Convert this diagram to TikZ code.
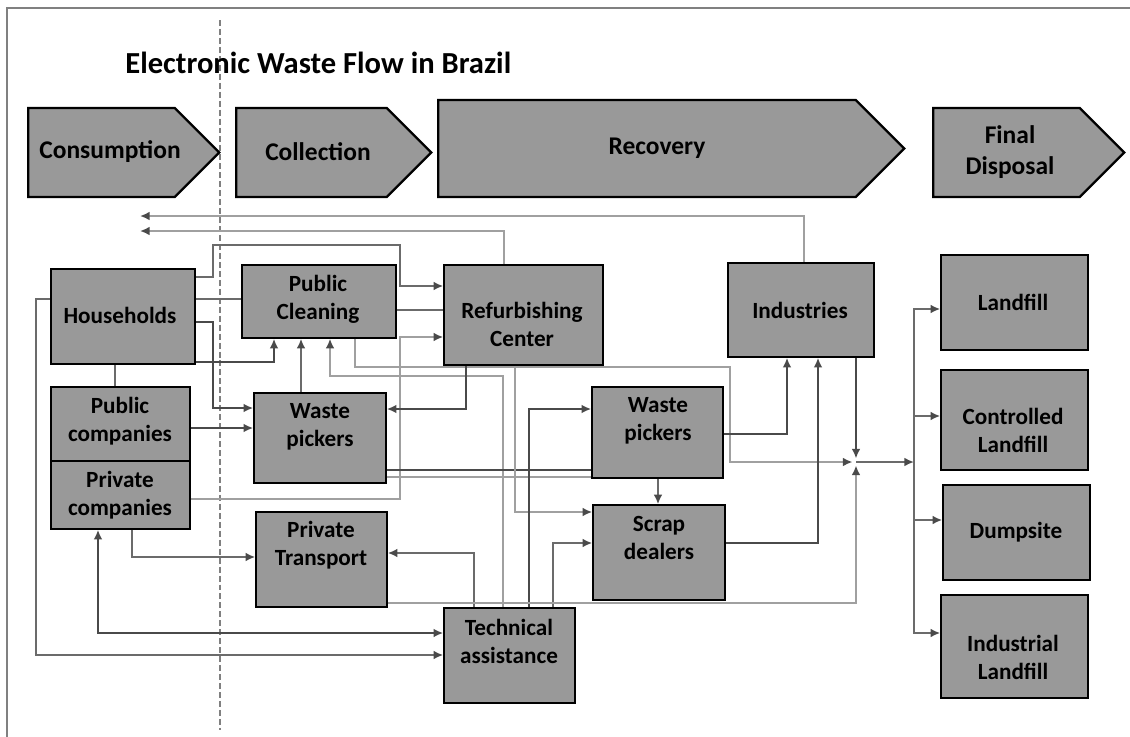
\documentclass[tikz,border=0pt]{standalone}
\usepackage{fontspec}
\setmainfont{Carlito}
\usetikzlibrary{arrows.meta,shapes.symbols}
\definecolor{boxgray}{HTML}{999999}
\definecolor{wiredk}{HTML}{4a4a4a}
\definecolor{wiremd}{HTML}{6b6b6b}
\definecolor{wirelt}{HTML}{a0a0a0}
\begin{document}
\begin{tikzpicture}[x=0.02cm, y=-0.02cm,
    box/.style 2 args={draw=black, line width=0.9pt, fill=boxgray, inner sep=0pt,
      minimum width=#1*0.02cm, minimum height=#2*0.02cm},
    stage/.style 2 args={signal, signal to=east, signal pointer angle=90, draw=black,
      line width=1.3pt, fill=boxgray, inner sep=0pt, anchor=west,
      minimum width=#1*0.02cm, minimum height=#2*0.02cm},
    txt/.style={font=\fontsize{13.2}{15.9}\selectfont\bfseries, align=center, inner sep=0pt},
    stagetxt/.style={font=\fontsize{14.5}{17.6}\selectfont\bfseries, align=center, inner sep=0pt},
    wire/.style={draw=wiremd, line width=1pt},
    wiredark/.style={draw=wiredk, line width=1.1pt},
    wirelight/.style={draw=wirelt, line width=1pt},
    >={Latex[length=5.5pt,width=5pt,color=wiredk]}]
  \useasboundingbox (0,0) rectangle (1130,737);
  \draw[draw=gray, line width=0.8pt] (7,737) -- (7,8) -- (1130,8);
  \draw[draw=gray, line width=0.8pt, dash pattern=on 3.4pt off 1.7pt] (220,20) -- (220,730);
  \node[font=\fontsize{17.4}{20}\selectfont\bfseries, anchor=west, inner sep=0pt] (title) at (125,63) {Electronic Waste Flow in Brazil};

  \node[stage={191}{89}] (cons) at (27,152.5) {};
  \node[stage={195}{89}] (coll) at (235,152.5) {};
  \node[stage={466}{97}] (reco) at (437,148.5) {};
  \node[stage={191}{89}] (fdis) at (932,152.5) {};
  \node[stagetxt] (cons-t) at (110,152) {Consumption};
  \node[stagetxt] (coll-t) at (318,152) {Collection};
  \node[stagetxt] (reco-t) at (657,148) {Recovery};
  \node[stagetxt] (fdis-t) at (1010,152) {Final\\Disposal};

  \node[box={144}{95}] (hh) at (123,316.5) {};
  \node[box={154}{73}] (pc) at (319,301.5) {};
  \node[box={159}{100}] (rc) at (523.5,315) {};
  \node[box={146}{94}] (ind) at (801,310) {};
  \node[box={139}{74}] (pub) at (120.5,424) {};
  \node[box={139}{68}] (priv) at (120.5,495) {};
  \node[box={132}{90}] (wp1) at (320,438) {};
  \node[box={131}{91}] (wp2) at (657.5,432.5) {};
  \node[box={132}{95}] (sd) at (659,552.5) {};
  \node[box={131}{95}] (pt) at (321.5,559.5) {};
  \node[box={131}{95}] (ta) at (509.5,655.5) {};
  \node[box={147}{95}] (lf) at (1014.5,302.5) {};
  \node[box={147}{100}] (clf) at (1014.5,420) {};
  \node[box={147}{95}] (ds) at (1016.5,532.5) {};
  \node[box={147}{103}] (ilf) at (1014.5,646.5) {};

  \node[txt] (hh-t) at (120,315) {Households};
  \node[txt] (pc-t) at (318,299) {Public\\Cleaning};
  \node[txt] (rc-t) at (522,324) {Refurbishing\\Center};
  \node[txt] (ind-t) at (800,310) {Industries};
  \node[txt] (pub-t) at (120,421) {Public\\companies};
  \node[txt] (priv-t) at (120,495) {Private\\companies};
  \node[txt] (wp1-t) at (320,427) {Waste\\pickers};
  \node[txt] (wp2-t) at (658,421) {Waste\\pickers};
  \node[txt] (sd-t) at (659,538) {Scrap\\dealers};
  \node[txt] (pt-t) at (321,545) {Private\\Transport};
  \node[txt] (ta-t) at (509,641) {Technical\\assistance};
  \node[txt] (lf-t) at (1013,302) {Landfill};
  \node[txt] (clf-t) at (1013,430) {Controlled\\Landfill};
  \node[txt] (ds-t) at (1016,532) {Dumpsite};
  \node[txt] (ilf-t) at (1013,657) {Industrial\\Landfill};

  \coordinate (backA) at (140,216);
  \coordinate (backB) at (140,231);
  \coordinate (jn) at (856,462);
  \coordinate (bus) at (914,462);

  \draw[wirelight,->] (804,0 |- ind.north) |- (backA);
  \draw[wirelight,->] (504,0 |- rc.north) |- (backB);
  \draw[wire,->] (hh.east |- 0,277) -| (213,245) -| (400,286) -- (rc.west |- 0,286);
  \draw[wire] (hh.east |- 0,299) -- (pc.west |- 0,299);
  \draw[wiredark,->] (hh.east |- 0,322) -| (213,408) -- (wp1.west |- 0,408);
  \draw[wiredark,->] (hh.east |- 0,362) -| (274,0 |- pc.south);
  \draw[wire] (115,0 |- hh.south) -- (115,0 |- pub.north);
  \draw[wire,->] (hh.west |- 0,299) -| (36,655) -- (ta.west |- 0,655);
  \draw[wire,->] (301,0 |- wp1.north) -- (301,0 |- pc.south);
  \draw[wirelight,->] (503,0 |- ta.north) |- (330,376) -- (330,0 |- pc.south);
  \draw[wirelight,->, shorten >=2pt] (355,0 |- pc.south) |- (730,367) |- (jn);
  \draw[wire] (pc.east |- 0,310) -- (rc.west |- 0,310);
  \draw[wirelight,->] (priv.east |- 0,499) -| (400,337) -- (rc.west |- 0,337);
  \draw[wiredark,->] (pub.east |- 0,428) -- (wp1.west |- 0,428);
  \draw[wiredark,->] (466,0 |- rc.south) |- (wp1.east |- 0,409);
  \draw[wiredark] (wp1.east |- 0,470) -- (wp2.west |- 0,470);
  \draw[wirelight] (wp1.east |- 0,477) -- (wp2.west |- 0,477);
  \draw[wirelight,->] (515,0 |- rc.south) |- (sd.west |- 0,512);
  \draw[wiredark,->] (529,0 |- ta.north) |- (wp2.west |- 0,409);
  \draw[wire,->] (553,0 |- ta.north) |- (sd.west |- 0,543);
  \draw[wire,->] (474,0 |- ta.north) |- (pt.east |- 0,553);
  \draw[wirelight,->, shorten >=2pt] (pt.east |- 0,603) -| (jn);
  \draw[wire,->] (132,0 |- priv.south) |- (pt.west |- 0,557);
  \draw[wiredark,<->] (98,0 |- priv.south) |- (ta.west |- 0,633);
  \draw[wire,->] (658,0 |- wp2.south) -- (658,0 |- sd.north);
  \draw[wiredark,->] (wp2.east |- 0,434) -| (787,0 |- ind.south);
  \draw[wiredark,->] (sd.east |- 0,543) -| (818,0 |- ind.south);
  \draw[wiredark,->, shorten >=2pt] (856,0 |- ind.south) -- (jn);
  \draw[wire,->] (jn) -- (bus);
  \foreach \n/\y in {lf/309,clf/416,ds/520,ilf/633}
    \draw[wire,->] (bus) |- (\n.west |- 0,\y);
\end{tikzpicture}
\end{document}
